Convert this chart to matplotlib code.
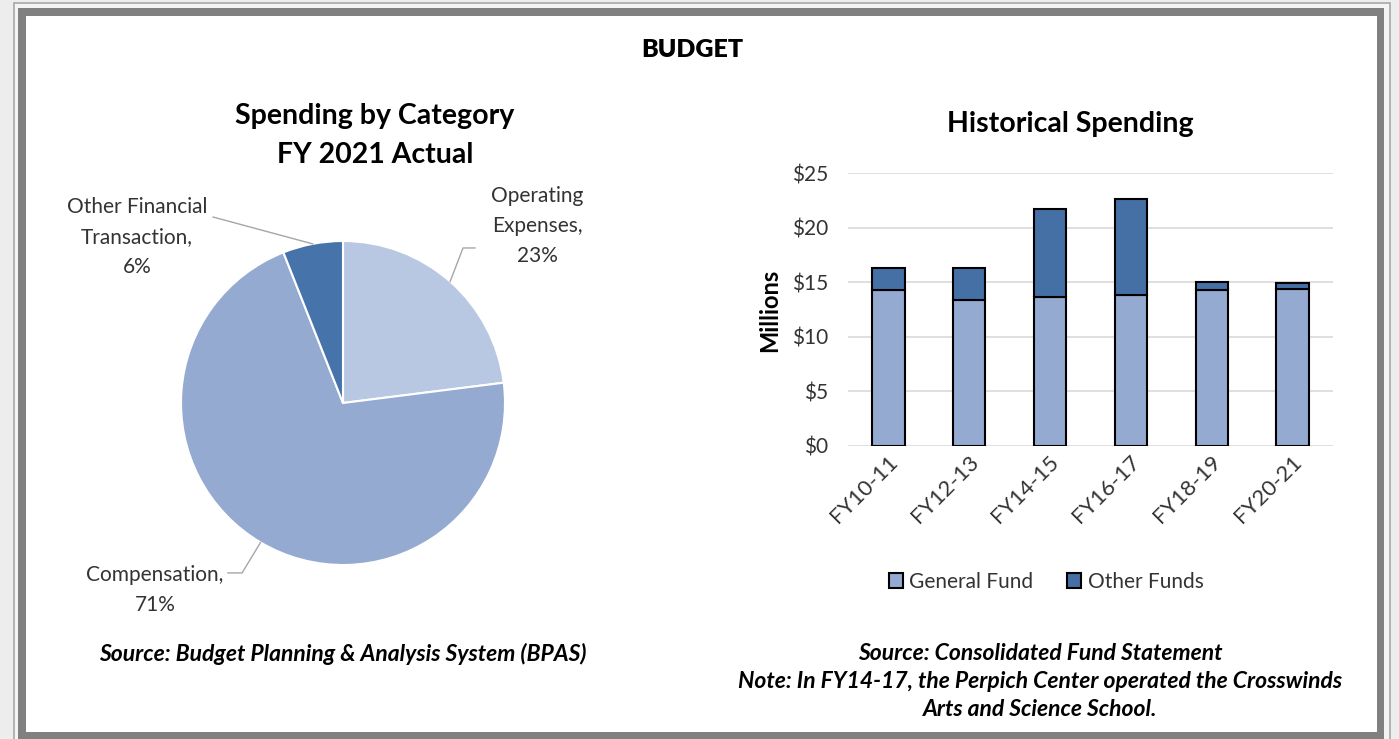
import numpy as np
import matplotlib
matplotlib.use("Agg")
import matplotlib.pyplot as plt
from matplotlib.patches import Rectangle
from matplotlib.transforms import ScaledTranslation

plt.rcParams['font.family'] = ['Lato', 'DejaVu Sans']

# pie data
pie_labels = ["Operating\nExpenses,\n23%", "Compensation,\n71%", "Other Financial\nTransaction,\n6%"]
pie_values = [23, 71, 6]
pie_colors = ["#b9c8e2", "#95aad1", "#4674aa"]

# bar data (millions)
years = ["FY10-11", "FY12-13", "FY14-15", "FY16-17", "FY18-19", "FY20-21"]
general_fund = [14.3, 13.4, 13.6, 13.8, 14.3, 14.4]
other_funds = [2.0, 2.9, 8.1, 8.8, 0.7, 0.5]
yticks = [0, 5, 10, 15, 20, 25]

W, H = 1399, 739
fig = plt.figure(figsize=(W / 100, H / 100), dpi=100)
fig.patch.set_facecolor("#ededed")


def box(x0, y0, x1, y1):
    # pixel box (top-left origin) -> figure fraction rect
    return [x0 / W, 1 - y1 / H, (x1 - x0) / W, (y1 - y0) / H]


def fx(x):
    return x / W


def fy(y):
    return 1 - y / H


# page borders (drawn under the axes)
b = box(14, 3, 1390, 745)
fig.patches.append(Rectangle((b[0], b[1]), b[2], b[3], transform=fig.transFigure,
                             facecolor="#f4f4f4", edgecolor="#a8a8a8", lw=1.2, zorder=-3))
b = box(18, 8, 1384, 745)
fig.patches.append(Rectangle((b[0], b[1]), b[2], b[3], transform=fig.transFigure,
                             facecolor="#808080", edgecolor="none", zorder=-2))
b = box(26, 16, 1377, 732)
fig.patches.append(Rectangle((b[0], b[1]), b[2], b[3], transform=fig.transFigure,
                             facecolor="white", edgecolor="none", zorder=-1))

fig.text(fx(692), fy(50), "BUDGET", ha="center", va="center", fontsize=18, fontweight="heavy")

# ---------- pie ----------
cx, cy, r = 343, 403, 162
ax1 = fig.add_axes(box(cx - r, cy - r, cx + r, cy + r))
wedges, _ = ax1.pie(pie_values, colors=pie_colors, startangle=90, counterclock=False,
                    wedgeprops=dict(edgecolor="white", linewidth=1.5))
ax1.set_xlim(-1, 1)
ax1.set_ylim(-1, 1)
ax1.axis("off")

fig.text(fx(375), fy(116), "Spending by Category", ha="center", va="center",
         fontsize=20.5, fontweight="bold")
fig.text(fx(375), fy(155), "FY 2021 Actual", ha="center", va="center",
         fontsize=20.5, fontweight="bold")

# label positions and leader paths in pie units
label_pos = [(1.198, 1.093), (-1.16, -1.154), (-1.272, 1.025)]
leader_mid = [(0.741, 0.957), (-0.623, -1.049), None]
leader_end = [(0.815, 0.957), (-0.71, -1.049), (-0.802, 1.148)]
for w, lab, pos, mid, end in zip(wedges, pie_labels, label_pos, leader_mid, leader_end):
    ang = np.deg2rad((w.theta1 + w.theta2) / 2)
    pts = [(np.cos(ang), np.sin(ang))]
    if mid is not None:
        pts.append(mid)
    pts.append(end)
    xs, ys = zip(*pts)
    ax1.plot(xs, ys, color="#a6a6a6", lw=1, clip_on=False)
    ax1.text(pos[0], pos[1], lab, ha="center", va="center", fontsize=15,
             color="#333333", linespacing=1.6)

fig.text(fx(343), fy(654), "Source: Budget Planning & Analysis System (BPAS)",
         ha="center", va="center", fontsize=16.5, fontweight="bold", style="italic")

# ---------- bars ----------
ax2 = fig.add_axes(box(848, 173, 1333, 446))
x = np.arange(len(years))
ax2.bar(x, general_fund, width=0.4, color="#95aad1", edgecolor="black", lw=1.5,
        label="General Fund", zorder=3)
ax2.bar(x, other_funds, width=0.4, bottom=general_fund, color="#4470a6",
        edgecolor="black", lw=1.5, label="Other Funds", zorder=3)
ax2.set_xlim(-0.5, len(years) - 0.5)
ax2.set_ylim(0, 25)
ax2.set_yticks(yticks)
ax2.set_yticklabels(["$%d" % v for v in yticks])
ax2.yaxis.grid(True, color="#d9d9d9", lw=1.2)
ax2.set_axisbelow(True)
for s in ax2.spines.values():
    s.set_visible(False)
ax2.tick_params(axis="y", length=0, pad=14, labelsize=15, labelcolor="#333333")
ax2.set_xticks(x)
ax2.set_xticklabels(years, rotation=45, ha="right", va="center",
                    rotation_mode="anchor", fontsize=16, color="#333333")
ax2.tick_params(axis="x", length=0, pad=9)
shift = ScaledTranslation(6 / 100, 0, fig.dpi_scale_trans)
for t in ax2.get_xticklabels():
    t.set_transform(t.get_transform() + shift)
fig.text(fx(1070), fy(124), "Historical Spending", ha="center", va="center",
         fontsize=20.5, fontweight="bold")
fig.text(fx(770), fy(310), "Millions", rotation=90, ha="center", va="center",
         fontsize=17, fontweight="bold")

leg = ax2.legend(loc="center", bbox_to_anchor=(fx(1046), fy(582)),
                 bbox_transform=fig.transFigure, ncol=2, frameon=False,
                 fontsize=15, handlelength=0.7, handleheight=0.7,
                 handletextpad=0.3, columnspacing=1.6)
for t in leg.get_texts():
    t.set_color("#333333")

fig.text(fx(1040), fy(654), "Source: Consolidated Fund Statement",
         ha="center", va="center", fontsize=16.5, fontweight="bold", style="italic")
fig.text(fx(1040), fy(681), "Note: In FY14-17, the Perpich Center operated the Crosswinds",
         ha="center", va="center", fontsize=16.5, fontweight="bold", style="italic")
fig.text(fx(1040), fy(709), "Arts and Science School.",
         ha="center", va="center", fontsize=16.5, fontweight="bold", style="italic")

fig.savefig("out.png", dpi=100, facecolor=fig.get_facecolor())
